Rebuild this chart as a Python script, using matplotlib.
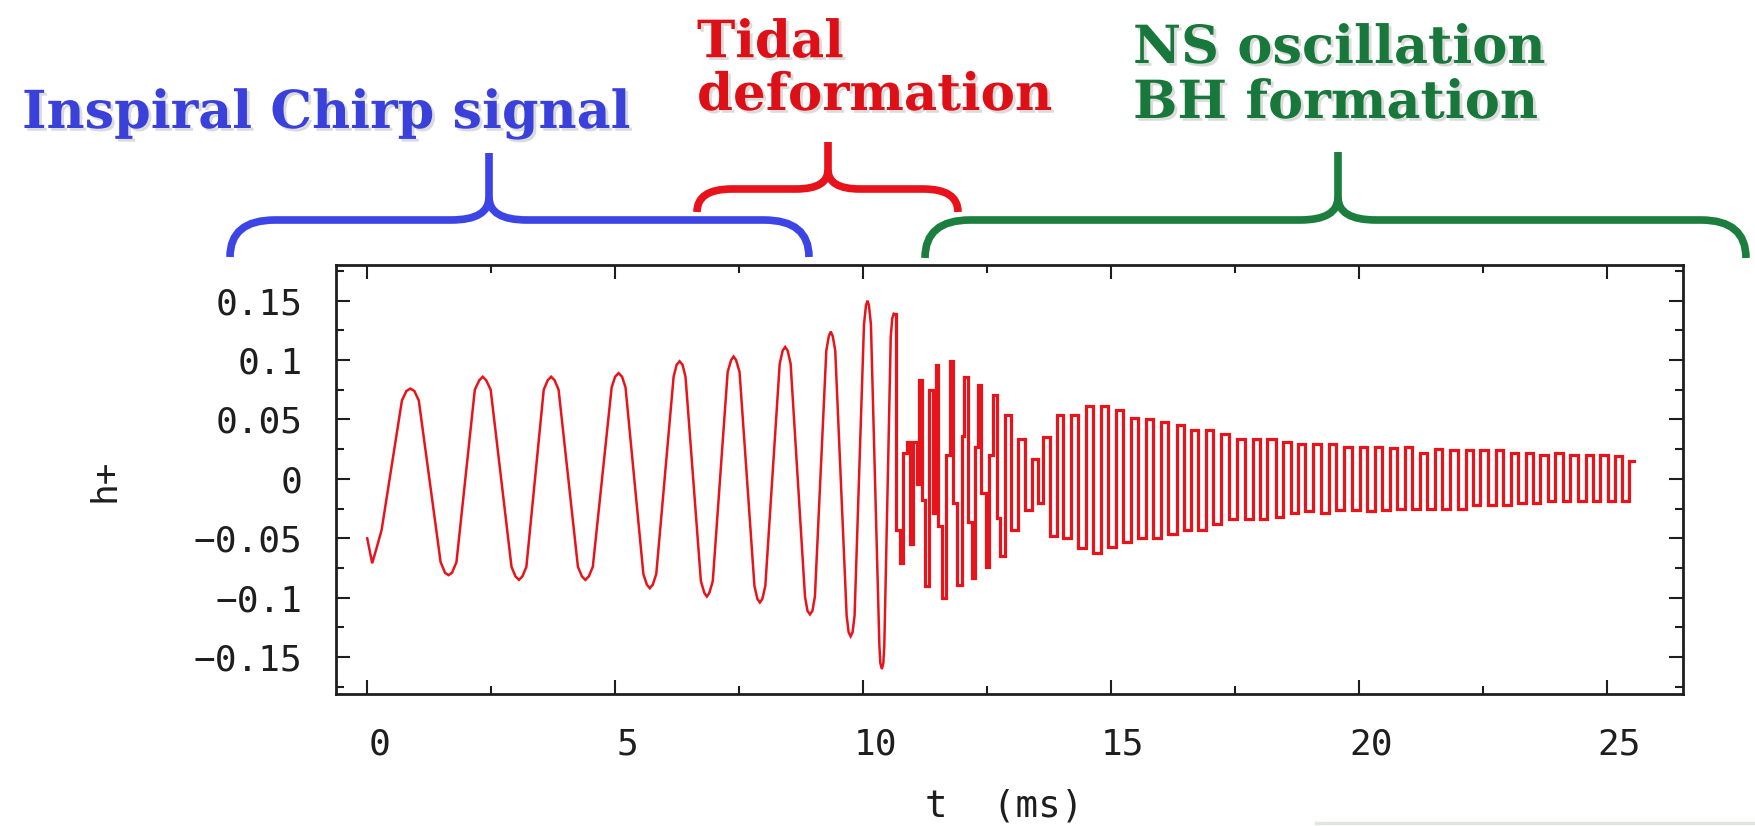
import matplotlib
matplotlib.use("Agg")
import matplotlib.pyplot as plt
import matplotlib.transforms as mtransforms
import matplotlib.patheffects as pe
from matplotlib.path import Path
from matplotlib.patches import PathPatch
from matplotlib.ticker import MultipleLocator, FixedLocator

# ---- inspiral part of h+ (t in ms): turning points and their shoulders ----
t_inspiral = [
    0.00, 0.10, 0.19, 0.29, 0.70, 0.79, 0.87, 0.95, 1.04, 1.48, 1.57, 1.64,
    1.71, 1.80, 2.17, 2.26, 2.33, 2.40, 2.49, 2.91, 2.99, 3.06, 3.13, 3.21,
    3.56, 3.64, 3.71, 3.78, 3.86, 4.25, 4.33, 4.40, 4.47, 4.55, 4.93, 5.00,
    5.07, 5.14, 5.21, 5.57, 5.64, 5.70, 5.76, 5.83, 6.18, 6.24, 6.30, 6.36,
    6.42, 6.73, 6.80, 6.85, 6.90, 6.97, 7.27, 7.34, 7.39, 7.44, 7.51, 7.81,
    7.87, 7.92, 7.97, 8.03, 8.32, 8.38, 8.43, 8.48, 8.54, 8.83, 8.88, 8.93,
    8.98, 9.03, 9.26, 9.31, 9.35, 9.39, 9.44, 9.67, 9.71, 9.75, 9.79, 9.83,
    10.02, 10.06, 10.09, 10.12, 10.16, 10.33, 10.35, 10.38, 10.41, 10.43,
    10.56, 10.59, 10.62,
]
h_inspiral = [
    -0.050, -0.071, -0.058, -0.043, 0.066, 0.074, 0.076, 0.074, 0.066,
    -0.070, -0.079, -0.081, -0.079, -0.070, 0.075, 0.083, 0.086, 0.083, 0.075,
    -0.074, -0.082, -0.085, -0.082, -0.074, 0.075, 0.083, 0.086, 0.083, 0.075,
    -0.074, -0.082, -0.085, -0.082, -0.074, 0.077, 0.086, 0.089, 0.086, 0.077,
    -0.080, -0.089, -0.092, -0.089, -0.080, 0.086, 0.096, 0.099, 0.096, 0.086,
    -0.086, -0.096, -0.099, -0.096, -0.086, 0.090, 0.100, 0.103, 0.100, 0.090,
    -0.090, -0.101, -0.104, -0.101, -0.090, 0.097, 0.108, 0.111, 0.108, 0.097,
    -0.099, -0.111, -0.114, -0.111, -0.099, 0.108, 0.120, 0.124, 0.120, 0.108,
    -0.115, -0.129, -0.1325, -0.129, -0.115, 0.130, 0.146, 0.150, 0.146, 0.130,
    -0.140, -0.155, -0.160, -0.155, -0.140, 0.120, 0.135, 0.139,
]

# ---- post-merger part of h+ (t in ms), sampled values ----
t_post = [
    10.62,
    10.71, 10.78, 10.85, 10.91, 10.98, 11.05, 11.11, 11.15, 11.21, 11.28,
    11.38, 11.45, 11.49, 11.55, 11.62, 11.72, 11.79, 11.85, 11.96, 12.02,
    12.06, 12.16, 12.22, 12.29, 12.36, 12.42, 12.53, 12.57, 12.66, 12.73,
    12.80, 12.92,
    13.07, 13.20, 13.33, 13.47, 13.57, 13.70, 13.84, 13.97, 14.11, 14.27,
    14.41, 14.58, 14.71, 14.88, 15.01, 15.18, 15.32, 15.48, 15.62, 15.79,
    15.92, 16.09, 16.22, 16.43, 16.53, 16.69, 16.83, 17.00, 17.13, 17.30,
    17.47, 17.60, 17.80, 17.94, 18.07, 18.24, 18.41, 18.54, 18.71, 18.84,
    19.01, 19.15, 19.31, 19.48, 19.62, 19.78, 19.95, 20.09, 20.26, 20.39,
    20.56, 20.69, 20.86, 20.99, 21.16, 21.30, 21.47, 21.60, 21.77, 21.92,
    22.07, 22.24, 22.37, 22.54, 22.68, 22.84, 22.98, 23.15, 23.28, 23.45,
    23.58, 23.75, 23.88, 24.05, 24.19, 24.35, 24.49, 24.66, 24.79, 24.96,
    25.09, 25.26, 25.36, 25.56,
]
h_post = [
    0.139,
    -0.043, -0.071, 0.022, 0.031, -0.055, 0.031, -0.004, 0.083, -0.018, -0.090,
    0.075, -0.029, 0.096, -0.040, -0.100, 0.020, 0.099, -0.020, -0.089, 0.036,
    0.086, -0.036, -0.083, 0.027, 0.079, -0.012, -0.074, 0.020, 0.071, -0.033,
    -0.065, 0.054,
    -0.043, 0.034, -0.026, 0.017, -0.020, 0.035, -0.048, 0.054, -0.050, 0.054,
    -0.058, 0.061, -0.062, 0.061, -0.057, 0.058, -0.053, 0.051, -0.050, 0.050,
    -0.050, 0.048, -0.046, 0.045, -0.043, 0.041, -0.043, 0.041, -0.038, 0.038,
    -0.034, 0.034, -0.034, 0.034, -0.034, 0.034, -0.032, 0.031, -0.029, 0.029,
    -0.027, 0.029, -0.029, 0.029, -0.026, 0.027, -0.026, 0.027, -0.027, 0.027,
    -0.026, 0.026, -0.025, 0.027, -0.025, 0.022, -0.025, 0.025, -0.025, 0.024,
    -0.025, 0.024, -0.022, 0.024, -0.022, 0.024, -0.022, 0.022, -0.020, 0.022,
    -0.020, 0.020, -0.019, 0.022, -0.019, 0.020, -0.019, 0.020, -0.019, 0.020,
    -0.019, 0.019, -0.019, 0.015,
]

x_ticks = [0, 5, 10, 15, 20, 25]
y_ticks = [0.15, 0.1, 0.05, 0, -0.05, -0.1, -0.15]
y_tick_labels = ["0.15", "0.1", "0.05", "0", "\u22120.05", "\u22120.1", "\u22120.15"]

# phase labels above the plot
phase_text = ["Inspiral Chirp signal", "Tidal\ndeformation", "NS oscillation\nBH formation"]
phase_color = ["#3a40da", "#dc1016", "#18773b"]
brace_color = ["#3c44e6", "#e8121a", "#1b7d3e"]

W, H = 1756, 826
fig = plt.figure(figsize=(W / 100, H / 100), dpi=100)
fig.patch.set_facecolor("white")

mono = "DejaVu Sans Mono"
ink = "#1e1e1e"
wave = "#e8141c"

ax = fig.add_axes([336 / W, 1 - 694 / H, (1683 - 336) / W, (694 - 265) / H])
ax.plot(t_inspiral, h_inspiral, color=wave, lw=1.8, solid_joinstyle="miter")
ax.plot(t_post, h_post, color=wave, lw=2.3, drawstyle="steps-mid",
        solid_joinstyle="miter")
ax.set_xlim(-0.63, 26.54)
ax.set_ylim(-0.181, 0.180)

ax.xaxis.set_major_locator(FixedLocator(x_ticks))
ax.xaxis.set_minor_locator(MultipleLocator(2.5))
ax.yaxis.set_major_locator(FixedLocator(y_ticks))
ax.set_yticklabels(y_tick_labels)
ax.yaxis.set_minor_locator(MultipleLocator(0.025))
ax.tick_params(which="both", direction="in", top=True, right=True, width=1.5,
               color=ink)
ax.tick_params(which="major", length=10)
ax.tick_params(which="minor", length=6)
ax.tick_params(axis="x", which="major", pad=24, labelsize=26, labelcolor=ink)
ax.tick_params(axis="y", which="major", pad=24, labelsize=26, labelcolor=ink)
shift = mtransforms.ScaledTranslation(12 / 100, 0, fig.dpi_scale_trans)
for lab in ax.get_xticklabels():
    lab.set_family(mono)
    lab.set_transform(lab.get_transform() + shift)
for lab in ax.get_yticklabels():
    lab.set_family(mono)
for sp in ax.spines.values():
    sp.set_linewidth(2.0)
    sp.set_color(ink)

# overlay in pixel coordinates for labels and braces
ov = fig.add_axes([0, 0, 1, 1], facecolor="none")
ov.set_xlim(0, W)
ov.set_ylim(H, 0)
ov.axis("off")

ov.text(105, 480, "h+", rotation=90, ha="center", va="center", family=mono,
        fontsize=26, color=ink)
ov.text(1004, 806, "t  (ms)", ha="center", va="center", family=mono,
        fontsize=27, color=ink)

# faint rule along the lower right edge
ov.plot([1316, 1756], [823, 823], color="#dfe6e0", lw=2.5)


def brace(x0, x1, xc, y_end, y_bar, y_tip, color, r=45, rc=38):
    """Curly brace opening downward with its point at (xc, y_tip)."""
    left = [(x0, y_end), (x0, y_bar), (x0 + r, y_bar),
            (xc - rc, y_bar), (xc, y_bar), (xc, y_bar - 0.6 * rc),
            (xc, y_tip)]
    right = [(x1, y_end), (x1, y_bar), (x1 - r, y_bar),
             (xc + rc, y_bar), (xc, y_bar), (xc, y_bar - 0.6 * rc)]
    codes_l = [Path.MOVETO, Path.CURVE3, Path.CURVE3, Path.LINETO,
               Path.CURVE3, Path.CURVE3, Path.LINETO]
    codes_r = [Path.MOVETO, Path.CURVE3, Path.CURVE3, Path.LINETO,
               Path.CURVE3, Path.CURVE3]
    for verts, codes in ((left, codes_l), (right, codes_r)):
        ov.add_patch(PathPatch(Path(verts, codes), fill=False, edgecolor=color,
                               lw=5.5, capstyle="butt", joinstyle="round"))


brace(230, 809, 489, 257, 220, 153, brace_color[0])
brace(697, 958, 828, 212, 189, 142, brace_color[1], r=35, rc=32)
brace(925, 1746, 1338, 258, 220, 152, brace_color[2])

serif = "DejaVu Serif"
shadow = [pe.SimplePatchShadow(offset=(2, -2), shadow_rgbFace="#9a9a9a", alpha=0.35),
          pe.Normal()]
# (x, baseline of last line, target width of widest line)
phase_pos = [(22, 128, 608), (697, 110, 355), (1133, 118, 412)]
fig.canvas.draw()
renderer = fig.canvas.get_renderer()
for txt, col, (x, yb, width) in zip(phase_text, phase_color, phase_pos):
    widest = max(txt.split("\n"), key=len)
    probe = ov.text(0, 0, widest, family=serif, weight="bold", fontsize=30)
    w = probe.get_window_extent(renderer).width
    probe.remove()
    size = 30 * width / w
    ov.text(x, yb, txt, ha="left", va="baseline", family=serif, weight="bold",
            fontsize=size, color=col, linespacing=1.1, path_effects=shadow)

fig.savefig("out.png", dpi=100, facecolor="white")
